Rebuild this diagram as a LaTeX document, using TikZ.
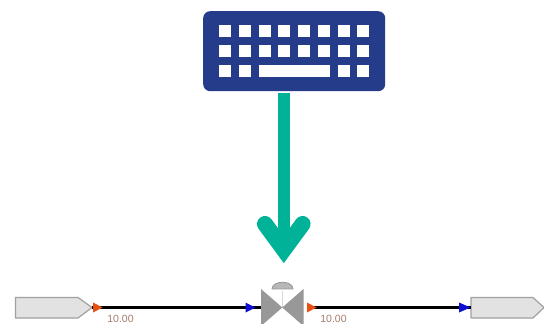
\documentclass[tikz,border=0pt]{standalone}
\usepackage{fontspec}
\setmainfont{Liberation Sans}
\usetikzlibrary{arrows.meta}
\definecolor{kbblue}{HTML}{253C8B}
\definecolor{teal}{HTML}{00B398}
\definecolor{boxfill}{HTML}{E2E2E2}
\definecolor{boxline}{HTML}{A0A0A0}
\definecolor{valvegrey}{HTML}{989898}
\definecolor{portorange}{HTML}{E8500F}
\definecolor{portblue}{HTML}{1010D0}
\definecolor{valuebrown}{HTML}{A57F70}
\tikzset{
  keycap/.style={fill=white,draw=none},
  tank/.style={fill=boxfill,draw=boxline,line width=1.2pt,line join=round},
  pipe/.style={draw=black,line width=2.6pt},
  valvebody/.style={fill=valvegrey,draw=none},
  inport/.style={fill=portorange!0!portblue,draw=none},
  outport/.style={fill=portorange,draw=none},
  flowarrow/.style={draw=teal,line width=12pt},
  flowhead/.style={draw=teal,line width=16pt,line cap=round,line join=miter},
  valuetext/.style={text=valuebrown,font=\fontsize{10.5}{10.5}\selectfont,inner sep=0pt}
}
\begin{document}
\begin{tikzpicture}[x=1pt,y=-1pt]
\useasboundingbox (0,0) rectangle (544,324);
\clip (0,0) rectangle (544,324);
\fill[white] (0,0) rectangle (544,324);
% keyboard
\node[fill=kbblue,rounded corners=7pt,minimum width=182pt,minimum height=80pt,inner sep=0pt,anchor=north west] (kb) at (203,11) {};
\foreach \kx in {219,238.8,258.5,278.3,298,317.8,337.5,357.3}{
  \fill[keycap] (\kx,25) rectangle ++(12,12);
  \fill[keycap] (\kx,45) rectangle ++(12,12);
}
\foreach \kx in {219,238.8,337.5,357.3}{
  \fill[keycap] (\kx,65) rectangle ++(12,12);
}
\fill[keycap] (258.5,65) rectangle (329.7,77);
% valve
\coordinate (valve) at (282.3,307.5);
\coordinate (valveL) at (261,307.5);
\coordinate (valveR) at (303.5,307.5);
% end boxes
\draw[tank] (15.5,297.5) -- (78,297.5) -- (92,307.5) -- (78,318) -- (15.5,318) -- cycle;
\coordinate (srcout) at (92,307.5);
\draw[tank] (471,297.5) -- (533,297.5) -- (544,307.5) -- (533,318) -- (471,318) -- cycle;
\coordinate (dstin) at (471,307.5);
% pipes
\draw[pipe] (srcout) -- (valveL);
\draw[pipe] (valveR) -- (dstin);
% ports
\fill[outport] (93,302.5) -- (102.5,307.5) -- (93,312.5) -- cycle;
\fill[inport] (245.5,302.5) -- (255.5,307.5) -- (245.5,312.5) -- cycle;
\fill[white] (303.5,303) rectangle (307,312);
\fill[outport] (307,302.5) -- (316.5,307.5) -- (307,312.5) -- cycle;
\fill[inport] (459,302.5) -- (470.5,307.5) -- (459,312.5) -- cycle;
% valve body
\draw[valvegrey!40!white,line width=1.2pt] (282.3,291) -- (valve);
\fill[valvebody] (valveL |- 0,289) -- (valve) -- (valveL |- 0,326) -- cycle;
\fill[valvebody] (valveR |- 0,289) -- (valve) -- (valveR |- 0,326) -- cycle;
\fill[valvegrey!70!white,draw=valvegrey,line width=0.8pt] (272,289) .. controls (272,280) and (293,280) .. (293,289) -- cycle;
% flow arrow
\draw[flowarrow] (kb.south -| 283.8,0) ++(0,2) -- (283.8,250);
\draw[flowhead] (265,224) -- (283.8,249.6) -- (302.6,224);
% labels
\node[valuetext,anchor=base] (v1) at (120.5,322.6) {10.00};
\node[valuetext,anchor=base] (v2) at (333.5,322.6) {10.00};
\end{tikzpicture}
\end{document}
